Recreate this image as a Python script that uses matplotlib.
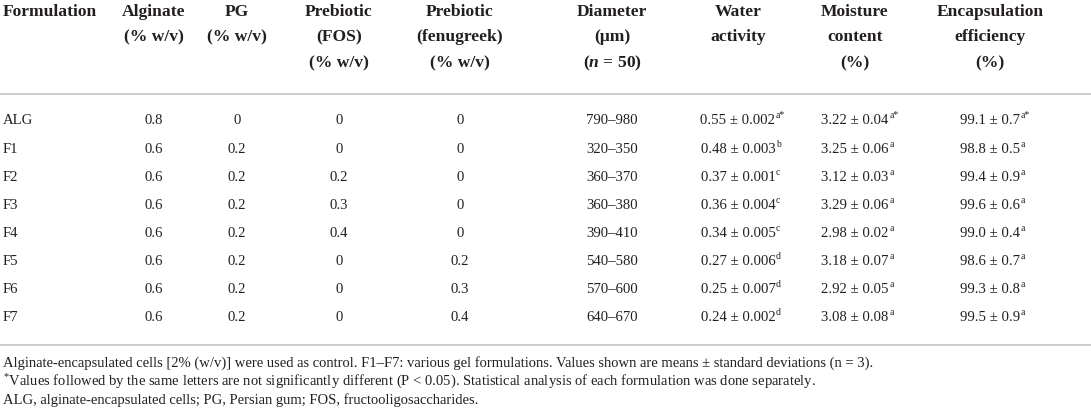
import matplotlib
matplotlib.use("Agg")
import matplotlib.pyplot as plt

# -----------------------------
# DATA
# -----------------------------
formulations = ["ALG", "F1", "F2", "F3", "F4", "F5", "F6", "F7"]
alginate = ["0.8", "0.6", "0.6", "0.6", "0.6", "0.6", "0.6", "0.6"]
pg = ["0", "0.2", "0.2", "0.2", "0.2", "0.2", "0.2", "0.2"]
fos = ["0", "0", "0.2", "0.3", "0.4", "0", "0", "0"]
fenugreek = ["0", "0", "0", "0", "0", "0.2", "0.3", "0.4"]
diameter = ["790–980", "320–350", "360–370", "360–380", "390–410",
            "540–580", "570–600", "640–670"]

aw_mean = ["0.55", "0.48", "0.37", "0.36", "0.34", "0.27", "0.25", "0.24"]
aw_sd = ["0.002", "0.003", "0.001", "0.004", "0.005", "0.006", "0.007", "0.002"]
aw_sup = ["a*", "b", "c", "c", "c", "d", "d", "d"]

mc_mean = ["3.22", "3.25", "3.12", "3.29", "2.98", "3.18", "2.92", "3.08"]
mc_sd = ["0.04", "0.06", "0.03", "0.06", "0.02", "0.07", "0.05", "0.08"]
mc_sup = ["a*", "a", "a", "a", "a", "a", "a", "a"]

ee_mean = ["99.1", "98.8", "99.4", "99.6", "99.0", "98.6", "99.3", "99.5"]
ee_sd = ["0.7", "0.5", "0.9", "0.6", "0.4", "0.7", "0.8", "0.9"]
ee_sup = ["a*", "a", "a", "a", "a", "a", "a", "a"]

headers = [
    ["Formulation"],
    ["Alginate", "(% w/v)"],
    ["PG", "(% w/v)"],
    ["Prebiotic", "(FOS)", "(% w/v)"],
    ["Prebiotic", "(fenugreek)", "(% w/v)"],
    ["Diameter", "(μm)", "($n$ = 50)"],
    ["Water", "activity"],
    ["Moisture", "content", "(%)"],
    ["Encapsulation", "efficiency", "(%)"],
]

footnotes = [
    "Alginate-encapsulated cells [2% (w/v)] were used as control. F1–F7: various gel "
    "formulations. Values shown are means ± standard deviations (n = 3).",
    "$^{\\mathrm{*}}$Values followed by the same letters are not significantly different "
    "(P < 0.05). Statistical analysis of each formulation was done separately.",
    "ALG, alginate-encapsulated cells; PG, Persian gum; FOS, fructooligosaccharides.",
]

# -----------------------------
# LAYOUT
# -----------------------------
W, H = 1091, 415
col_x = [3, 154, 237, 339, 460, 612, 738, 855, 990]
head_y = [12, 37, 63]
row_y0, row_dy = 121, 28.1
rule_y = [94, 345]
foot_y = [363, 382, 400]
ink = "#231f20"
rule_color = "#c8c8c8"

plt.rcParams["font.family"] = ["Liberation Serif", "DejaVu Serif"]
plt.rcParams["mathtext.fontset"] = "custom"
plt.rcParams["mathtext.rm"] = "Liberation Serif"
plt.rcParams["mathtext.it"] = "Liberation Serif:italic:bold"

fig = plt.figure(figsize=(W / 100, H / 100), dpi=100)
fig.patch.set_facecolor("white")


def fx(px):
    return px / W


def fy(py):
    return 1 - py / H


# header
for c, lines in enumerate(headers):
    ha = "left" if c == 0 else "center"
    for k, line in enumerate(lines):
        fig.text(fx(col_x[c]), fy(head_y[k]), line, ha=ha, va="center",
                 fontsize=12.6, fontweight="bold", color=ink)

# rules
for y in rule_y:
    fig.add_artist(plt.Line2D([0, 1], [fy(y), fy(y)], color=rule_color, lw=1.3))

# body
renderer = fig.canvas.get_renderer()
sups = []
for i in range(len(formulations)):
    y = row_y0 + i * row_dy
    plain = [formulations[i], alginate[i], pg[i], fos[i], fenugreek[i], diameter[i]]
    for c, val in enumerate(plain):
        ha = "left" if c == 0 else "center"
        fig.text(fx(col_x[c]), fy(y), val, ha=ha, va="center",
                 fontsize=10.6, color=ink)
    stats = [(aw_mean[i], aw_sd[i], aw_sup[i]),
             (mc_mean[i], mc_sd[i], mc_sup[i]),
             (ee_mean[i], ee_sd[i], ee_sup[i])]
    for c, (m, s, sp) in enumerate(stats, start=6):
        t = fig.text(fx(col_x[c]), fy(y), f"{m} ± {s}", ha="center", va="center",
                     fontsize=10.6, color=ink)
        sups.append((t, sp, y))

for t, sp, y in sups:
    bb = t.get_window_extent(renderer)
    fig.text((bb.x1 + 0.5) / W, fy(y - 5), sp, ha="left", va="center",
             fontsize=7, color=ink)

# footnotes
for k, note in enumerate(footnotes):
    fig.text(fx(3), fy(foot_y[k]), note, ha="left", va="center",
             fontsize=10.55, color=ink)

fig.savefig("out.png", dpi=100, facecolor="white")
